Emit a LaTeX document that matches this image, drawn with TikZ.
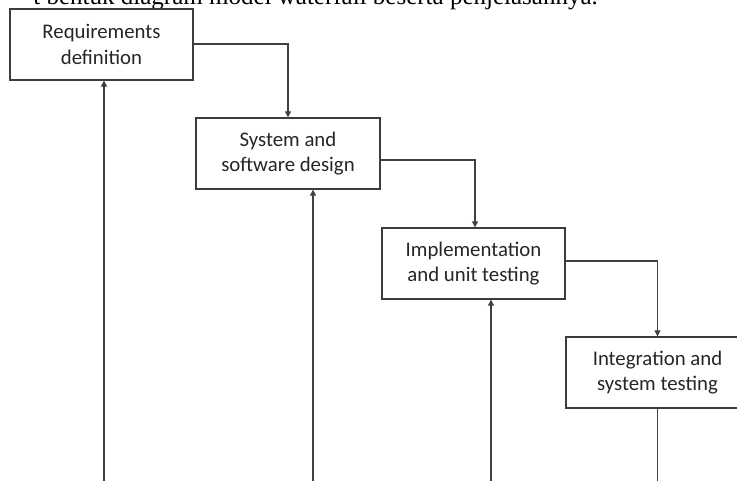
\documentclass[tikz,border=0pt]{standalone}
\usepackage{fontspec}
\setmainfont{Carlito}
\newfontfamily\serifhead{Liberation Serif}
\usetikzlibrary{arrows.meta}
\definecolor{boxgray}{HTML}{3C3C3C}
\definecolor{linegray}{HTML}{404040}
\definecolor{textgray}{HTML}{262626}
\begin{document}
\begin{tikzpicture}[x=1pt,y=-1pt,
  box/.style={draw=boxgray, line width=1.3pt, fill=white, minimum width=183pt,
    minimum height=71pt, inner sep=0pt, align=center,
    font=\fontsize{20.8}{25.5}\selectfont, text=textgray},
  link/.style={draw=linegray, line width=1.1pt},
  arr/.style={link, -{Triangle[length=6pt,width=6pt]}}]
\useasboundingbox (0,0) rectangle (737,481);
\clip (0,0) rectangle (737,481);
\fill[white] (0,0) rectangle (737,481);
\node[anchor=base east, inner sep=0pt, text=black,
  font=\serifhead\fontsize{25}{30}\selectfont] (cap) at (598,4.5)
  {t bentuk diagram model waterfall beserta penjelasannya.};
\node[box] (r) at (101.5,44.5) {Requirements\\definition};
\node[box, minimum width=184pt] (s) at (288,153.5) {System and\\software design};
\node[box] (m) at (473.5,263.5) {Implementation\\and unit testing};
\node[box] (t) at (657.5,372.5) {Integration and\\system testing};
\coordinate (rb) at (104,481);
\coordinate (sb) at (313,481);
\coordinate (mb) at (491,481);
\coordinate (tb) at (657.5,481);
\draw[arr] ([yshift=0.5pt]r.east) -| (s.north);
\draw[arr] ([yshift=-6.5pt]s.east) -| ([xshift=1.5pt]m.north);
\draw[arr] ([yshift=2.5pt]m.east) -| (t.north);
\draw[link] (t.south) -- (tb);
\draw[arr] (rb) -- (rb |- r.south);
\draw[arr] (sb) -- (sb |- s.south);
\draw[arr] (mb) -- (mb |- m.south);
\end{tikzpicture}
\end{document}
